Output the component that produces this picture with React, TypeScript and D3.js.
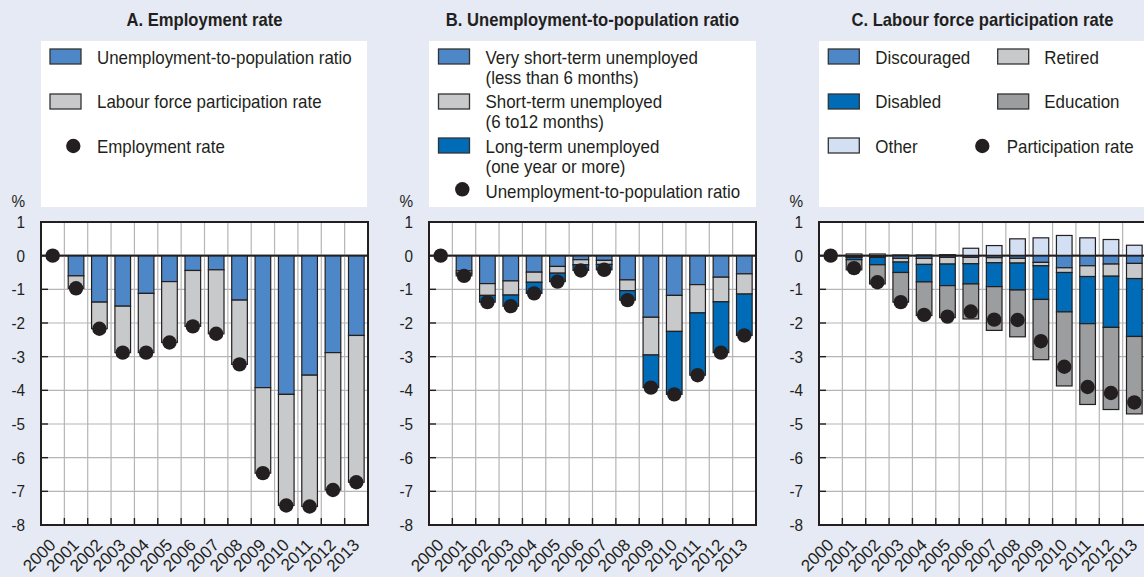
import React from "react";
import * as d3 from "d3";

const years = ["2000","2001","2002","2003","2004","2005","2006","2007","2008","2009","2010","2011","2012","2013"];
const yTicks = [1,0,-1,-2,-3,-4,-5,-6,-7,-8];

// Panel A
const unempA = [0,-0.6,-1.38,-1.5,-1.12,-0.77,-0.44,-0.42,-1.32,-3.92,-4.12,-3.55,-2.88,-2.37];
const lfpA = [0,-0.37,-0.79,-1.38,-1.76,-1.81,-1.66,-1.9,-1.91,-2.54,-3.3,-3.9,-4.08,-4.36];
const empRate = [0,-0.97,-2.17,-2.88,-2.88,-2.58,-2.1,-2.32,-3.23,-6.46,-7.42,-7.45,-6.96,-6.73];

// Panel B
const veryShort = [0,-0.45,-0.83,-0.75,-0.49,-0.32,-0.12,-0.14,-0.72,-1.83,-1.18,-0.86,-0.64,-0.54];
const shortTerm = [0,-0.07,-0.35,-0.42,-0.3,-0.2,-0.15,-0.12,-0.32,-1.12,-1.07,-0.84,-0.73,-0.6];
const longTerm = [0,-0.08,-0.2,-0.33,-0.33,-0.25,-0.17,-0.16,-0.28,-0.97,-1.87,-1.85,-1.51,-1.23];
const unempRatio = [0,-0.6,-1.38,-1.5,-1.12,-0.77,-0.44,-0.42,-1.32,-3.92,-4.12,-3.55,-2.88,-2.37];

// Panel C
const other = [0,0.05,0.05,0.02,0.02,0.03,0.22,0.3,0.5,0.53,0.6,0.53,0.48,0.31];
const discouraged = [0,-0.03,-0.03,-0.08,-0.08,-0.05,-0.05,-0.06,-0.08,-0.2,-0.36,-0.3,-0.25,-0.23];
const retired = [0,-0.02,-0.02,-0.11,-0.18,-0.2,-0.19,-0.15,-0.14,-0.1,-0.14,-0.32,-0.36,-0.45];
const disabled = [0,-0.07,-0.22,-0.31,-0.52,-0.64,-0.6,-0.71,-0.8,-1.0,-1.17,-1.4,-1.52,-1.72];
const education = [0,-0.3,-0.57,-0.88,-1.0,-0.95,-1.04,-1.3,-1.39,-1.79,-2.2,-2.4,-2.44,-2.3];
const participation = [0,-0.37,-0.79,-1.38,-1.76,-1.81,-1.66,-1.9,-1.91,-2.54,-3.3,-3.9,-4.08,-4.36];

const C_LBLUE = "#4d87c7";
const C_DBLUE = "#006bb6";
const C_LGRAY = "#c8c9cb";
const C_DGRAY = "#9c9d9f";
const C_PALE = "#d3dff2";
const C_BG = "#e6eaf5";
const C_INK = "#231f20";

const FONT = "'Liberation Sans', Arial, sans-serif";

const TOP = 222;
const H = 303;
const W = 327;

type Series = { key: string; values: number[]; color: string };

function SText({ x, y, sx = 1, size, anchor = "start", bold = false, children }: any) {
  return (
    <text transform={`translate(${x},${y}) scale(${sx},1)`} textAnchor={anchor} fontFamily={FONT}
      fontWeight={bold ? "bold" : "normal"} fontSize={size} fill={C_INK}>{children}</text>
  );
}

function Panel({ left, title, series, dots }: { left: number; title: string; series: Series[]; dots: number[] }) {
  const x = d3.scaleBand().domain(years).range([0, W]).padding(0);
  const y = d3.scaleLinear().domain([-8, 1]).range([H, 0]);
  const bw = x.bandwidth() * 0.67;
  const rows = years.map((yr, i) => {
    const r: any = { year: yr };
    series.forEach((s) => (r[s.key] = s.values[i]));
    return r;
  });
  const stack = d3.stack().keys(series.map((s) => s.key)).offset(d3.stackOffsetDiverging);
  const layers = stack(rows);
  return (
    <g>
      <SText x={left + W / 2} y={26} sx={0.95} size={17.5} anchor="middle" bold>{title}</SText>
      <g transform={`translate(${left},${TOP})`}>
        <rect x={0} y={0} width={W} height={H} fill="#fff" />
        {yTicks.map((t) => (
          <line key={"h" + t} x1={0} x2={W} y1={y(t)} y2={y(t)} stroke={t === 0 ? C_INK : "#b5b5b5"} strokeWidth={t === 0 ? 1.6 : 1.2} />
        ))}
        {years.slice(1).map((yr) => (
          <line key={"v" + yr} x1={x(yr)!} x2={x(yr)!} y1={0} y2={H} stroke="#b5b5b5" strokeWidth={1.2} />
        ))}
        {layers.map((layer, li) =>
          layer.map((d, i) => {
            const y0 = y(d[0]);
            const y1 = y(d[1]);
            const h = Math.abs(y0 - y1);
            if (h < 0.01) return null;
            return (
              <rect key={li + "-" + i} x={x(years[i])! + (x.bandwidth() - bw) / 2} y={Math.min(y0, y1)} width={bw} height={h}
                fill={series[li].color} stroke={C_INK} strokeWidth={1.2} />
            );
          })
        )}
        <line x1={0} x2={W} y1={y(0)} y2={y(0)} stroke={C_INK} strokeWidth={1.6} />
        {dots.map((v, i) => (
          <circle key={"d" + i} cx={x(years[i])! + x.bandwidth() / 2} cy={y(v)} r={7.2} fill={C_INK} />
        ))}
        {yTicks.map((t) => (
          <line key={"tk" + t} x1={0} x2={7} y1={y(t)} y2={y(t)} stroke={C_INK} strokeWidth={1.4} />
        ))}
        {years.slice(1).map((yr) => (
          <line key={"bt" + yr} x1={x(yr)!} x2={x(yr)!} y1={H - 7} y2={H} stroke={C_INK} strokeWidth={1.4} />
        ))}
        <rect x={0} y={0} width={W} height={H} fill="none" stroke={C_INK} strokeWidth={2} />
        {yTicks.map((t) => (
          <SText key={"yl" + t} x={-16} y={y(t) + 6} sx={0.9} size={17} anchor="end">{t}</SText>
        ))}
        <SText x={-16} y={-15} sx={0.9} size={17} anchor="end">%</SText>
        {years.map((yr) => (
          <text key={"xl" + yr} transform={`translate(${x(yr)! + x.bandwidth() / 2 + 4},${H + 21}) rotate(-45)`} textAnchor="end"
            fontFamily={FONT} fontSize={17} fill={C_INK}>{yr}</text>
        ))}
      </g>
    </g>
  );
}

function Swatch({ x, y, color }: { x: number; y: number; color: string }) {
  return <rect x={x} y={y} width={31} height={15} fill={color} stroke="#333" strokeWidth={1.3} />;
}

function LText({ x, y, children }: { x: number; y: number; children: any }) {
  return <SText x={x} y={y} sx={0.94} size={18}>{children}</SText>;
}

export default function App() {
  return (
    <div style={{ position: "absolute", left: 0, top: 0 }}>
      <svg width={1144} height={577} style={{ display: "block" }}>
        <rect x={0} y={0} width={1144} height={577} fill={C_BG} />
        {/* Legend boxes */}
        <rect x={41} y={41} width={326} height={166} fill="#fff" />
        <rect x={429} y={41} width={327} height={166} fill="#fff" />
        <rect x={819} y={41} width={327} height={166} fill="#fff" />
        {/* Legend A */}
        <Swatch x={50} y={49} color={C_LBLUE} />
        <LText x={97} y={63.5}>Unemployment-to-population ratio</LText>
        <Swatch x={50} y={94} color={C_LGRAY} />
        <LText x={97} y={108}>Labour force participation rate</LText>
        <circle cx={73.3} cy={146} r={7.2} fill={C_INK} />
        <LText x={97} y={152.5}>Employment rate</LText>
        {/* Legend B */}
        <Swatch x={438.5} y={49} color={C_LBLUE} />
        <LText x={485.5} y={64}>Very short-term unemployed</LText>
        <LText x={485.5} y={84}>(less than 6 months)</LText>
        <Swatch x={438.5} y={94} color={C_LGRAY} />
        <LText x={485.5} y={108}>Short-term unemployed</LText>
        <LText x={485.5} y={128}>(6 to12 months)</LText>
        <Swatch x={438.5} y={138} color={C_DBLUE} />
        <LText x={485.5} y={152.5}>Long-term unemployed</LText>
        <LText x={485.5} y={172.5}>(one year or more)</LText>
        <circle cx={462.3} cy={189.3} r={7.2} fill={C_INK} />
        <LText x={485.5} y={197.5}>Unemployment-to-population ratio</LText>
        {/* Legend C */}
        <Swatch x={828.3} y={49} color={C_LBLUE} />
        <LText x={875.3} y={63.5}>Discouraged</LText>
        <Swatch x={997.7} y={49} color={C_LGRAY} />
        <LText x={1044.3} y={63.5}>Retired</LText>
        <Swatch x={828.3} y={94} color={C_DBLUE} />
        <LText x={875.3} y={108}>Disabled</LText>
        <Swatch x={997.7} y={94} color={C_DGRAY} />
        <LText x={1044.3} y={108}>Education</LText>
        <Swatch x={828.3} y={138} color={C_PALE} />
        <LText x={875.3} y={152.5}>Other</LText>
        <circle cx={982.3} cy={146} r={7.2} fill={C_INK} />
        <LText x={1006.7} y={152.5}>Participation rate</LText>

        <Panel left={41} title="A. Employment rate" dots={empRate}
          series={[{ key: "u", values: unempA, color: C_LBLUE }, { key: "l", values: lfpA, color: C_LGRAY }]} />
        <Panel left={429} title="B. Unemployment-to-population ratio" dots={unempRatio}
          series={[{ key: "vs", values: veryShort, color: C_LBLUE }, { key: "st", values: shortTerm, color: C_LGRAY }, { key: "lt", values: longTerm, color: C_DBLUE }]} />
        <Panel left={819} title="C. Labour force participation rate" dots={participation}
          series={[{ key: "o", values: other, color: C_PALE }, { key: "di", values: discouraged, color: C_LBLUE }, { key: "re", values: retired, color: C_LGRAY }, { key: "da", values: disabled, color: C_DBLUE }, { key: "ed", values: education, color: C_DGRAY }]} />
      </svg>
    </div>
  );
}
